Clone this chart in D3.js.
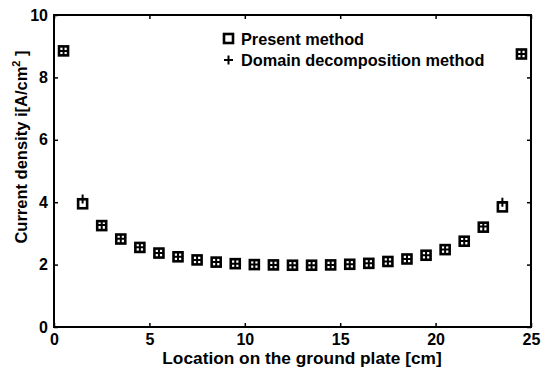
<!DOCTYPE html>
<html><head><meta charset="utf-8">
<script src="https://cdn.jsdelivr.net/npm/d3@7"></script>
<style>body{margin:0;background:#fff}svg{display:block}text{font-family:"Liberation Sans",Arial,sans-serif;fill:#000}</style>
</head><body>
<script>
const locations = [0.5,1.5,2.5,3.5,4.5,5.5,6.5,7.5,8.5,9.5,10.5,11.5,12.5,13.5,14.5,15.5,16.5,17.5,18.5,19.5,20.5,21.5,22.5,23.5,24.5];
const presentMethod = [8.85,3.95,3.25,2.82,2.55,2.37,2.25,2.15,2.08,2.03,2.0,1.99,1.98,1.98,1.99,2.01,2.04,2.1,2.18,2.3,2.48,2.75,3.2,3.85,8.75];
const domainDecomp = [8.85,4.1,3.27,2.83,2.56,2.37,2.25,2.15,2.08,2.03,2.0,1.99,1.98,1.98,1.99,2.01,2.04,2.1,2.18,2.3,2.48,2.76,3.22,4.0,8.75];
const xTicks = [0,5,10,15,20,25];
const yTicks = [0,2,4,6,8,10];
const legendLabels = ["Present method","Domain decomposition method"];

const W=552,H=375;
const m={l:54,r:21,t:15,b:48};
const svg=d3.select("body").append("svg").attr("width",W).attr("height",H);
const x=d3.scaleLinear().domain([0,25]).range([m.l,W-m.r]);
const y=d3.scaleLinear().domain([0,10]).range([H-m.b,m.t]);

const g=svg.append("g");
g.append("rect").attr("x",x(0)).attr("y",y(10)).attr("width",x(25)-x(0)).attr("height",y(0)-y(10))
 .attr("fill","none").attr("stroke","#000").attr("stroke-width",2);

const tickStyle=s=>{s.select(".domain").remove();s.selectAll("line").attr("stroke","#000").attr("stroke-width",1.5);
 s.selectAll("text").attr("font-size",16).attr("font-weight","bold");};
svg.append("g").attr("transform",`translate(0,${y(0)})`).call(d3.axisBottom(x).tickValues(xTicks).tickSizeInner(-4).tickSizeOuter(0).tickPadding(7)).call(tickStyle);
svg.append("g").attr("transform",`translate(0,${y(10)})`).call(d3.axisTop(x).tickValues(xTicks).tickSizeInner(-4).tickSizeOuter(0).tickFormat("")).call(tickStyle);
svg.append("g").attr("transform",`translate(${x(0)},0)`).call(d3.axisLeft(y).tickValues(yTicks).tickSizeInner(-4).tickSizeOuter(0).tickPadding(6)).call(tickStyle);
svg.append("g").attr("transform",`translate(${x(25)},0)`).call(d3.axisRight(y).tickValues(yTicks).tickSizeInner(-4).tickSizeOuter(0).tickFormat("")).call(tickStyle);

const sq=9, pl=4.5;
svg.append("g").selectAll("rect").data(locations).join("rect")
 .attr("x",(d)=>x(d)-sq/2).attr("y",(d,i)=>y(presentMethod[i])-sq/2).attr("width",sq).attr("height",sq)
 .attr("fill","none").attr("stroke","#000").attr("stroke-width",2.6);
const pg=svg.append("g").attr("stroke","#000").attr("stroke-width",2);
pg.selectAll("path").data(locations).join("path")
 .attr("d",(d,i)=>{const cx=x(d),cy=y(domainDecomp[i]);return `M${cx-pl},${cy}H${cx+pl}M${cx},${cy-pl}V${cy+pl}`;});

const lg=svg.append("g");
lg.append("rect").attr("x",224).attr("y",34).attr("width",9).attr("height",9).attr("fill","none").attr("stroke","#000").attr("stroke-width",2.6);
lg.append("path").attr("d","M224,60H233M228.5,55.5V64.5").attr("stroke","#000").attr("stroke-width",2);
lg.selectAll("text").data(legendLabels).join("text").attr("x",241).attr("y",(d,i)=>39+i*21).attr("dy","0.35em")
 .attr("font-size",16.3).attr("font-weight","bold").text(d=>d);

svg.append("text").attr("x",302).attr("y",364).attr("text-anchor","middle").attr("font-size",17.3).attr("font-weight","bold")
 .text("Location on the ground plate [cm]");
const yl=svg.append("text").attr("transform",`translate(27,147) rotate(-90)`).attr("text-anchor","middle")
 .attr("font-size",16.5).attr("font-weight","bold");
yl.append("tspan").text("Current density i[A/cm");
yl.append("tspan").attr("dy",-7).attr("font-size",11).text("2");
yl.append("tspan").attr("dy",7).text(" ]");
</script>
</body></html>
